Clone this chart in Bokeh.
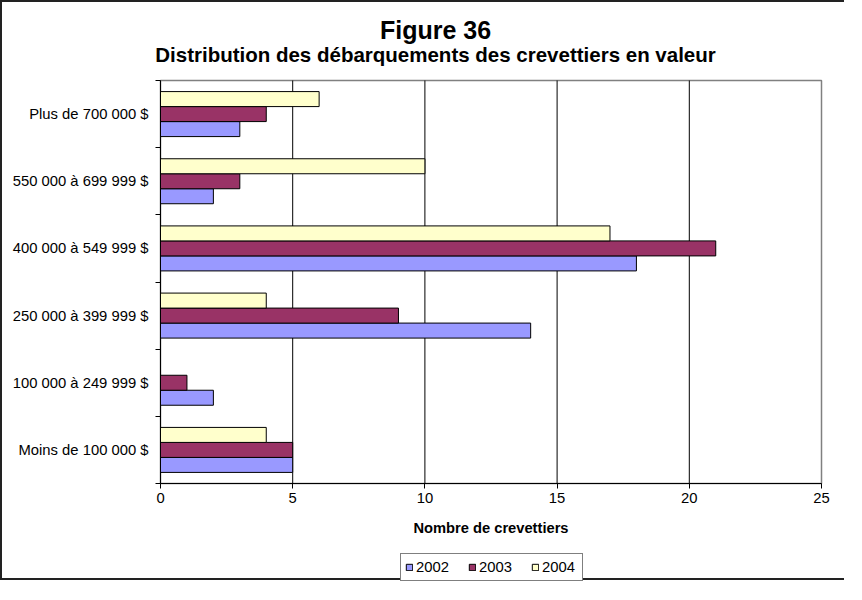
from bokeh.plotting import figure
from bokeh.models import ColumnDataSource, FixedTicker, Label, Legend, LegendItem
from bokeh.transform import dodge
from bokeh.embed import file_html
from bokeh.resources import INLINE

title = "Figure 36"
subtitle = "Distribution des débarquements des crevettiers en valeur"
x_label = "Nombre de crevettiers"

categories = [
    "Moins de 100 000 $",
    "100 000 à 249 999 $",
    "250 000 à 399 999 $",
    "400 000 à 549 999 $",
    "550 000 à 699 999 $",
    "Plus de 700 000 $",
]
years = ["2002", "2003", "2004"]
v2002 = [5, 2, 14, 18, 2, 3]
v2003 = [5, 1, 9, 21, 3, 4]
v2004 = [4, 0, 4, 17, 10, 6]
x_ticks = [0, 5, 10, 15, 20, 25]

colors = ["#9999FF", "#993366", "#FFFFCC"]
FONT = "Liberation Sans"

# layout (pixels); the frame fills the whole canvas, the plot area sits inside it
W, H = 844, 580
plot_left_px, plot_right_px = 158, 819
plot_top_px, plot_bottom_px = 78, 481
n = len(categories)
ux = (plot_right_px - plot_left_px) / (x_ticks[-1] - x_ticks[0])
uy = (plot_bottom_px - plot_top_px) / n
x_start = x_ticks[0] - plot_left_px / ux
x_end = x_ticks[-1] + (W - plot_right_px) / ux
y_start = -(H - plot_bottom_px) / uy
y_end = n + plot_top_px / uy

p = figure(width=W, height=H, x_range=(x_start, x_end), y_range=(y_start, y_end),
           output_backend="svg", toolbar_location=None,
           min_border_left=0, min_border_right=0, min_border_top=0, min_border_bottom=0)
p.styles = {"border-left": "2px solid #222", "border-top": "2px solid #222",
            "border-bottom": "2px solid #222"}
p.outline_line_color = None
p.xgrid.grid_line_color = None
p.ygrid.grid_line_color = None

# plot-area border and vertical gridlines
p.quad(left=x_ticks[0], right=x_ticks[-1], bottom=0, top=n, fill_color=None,
       line_color="#808080", line_width=1.5)
p.segment(x0=x_ticks[1:-1], y0=[0] * (len(x_ticks) - 2), x1=x_ticks[1:-1],
          y1=[n] * (len(x_ticks) - 2), line_color="black", line_width=1)

yc = [i + 0.5 for i in range(n)]
src = ColumnDataSource(dict(y=yc, v2002=v2002, v2003=v2003, v2004=v2004))
bh = 0.2233
offsets = [-bh, 0.0, bh]
renderers = []
for yr, col, off in zip(years, colors, offsets):
    r = p.hbar(y=dodge("y", off), left=0, right="v" + yr, height=bh, source=src,
               fill_color=col, line_color="black", line_width=1)
    renderers.append(r)

# x axis drawn at y = 0
p.xaxis.fixed_location = 0
p.xaxis.bounds = (x_ticks[0], x_ticks[-1])
p.xaxis.ticker = FixedTicker(ticks=x_ticks)
p.xaxis.major_tick_out = 5
p.xaxis.major_tick_in = 0
p.xaxis.minor_tick_line_color = None
p.xaxis.axis_line_color = "black"
p.xaxis.major_tick_line_color = "black"
p.xaxis.major_label_text_font = FONT
p.xaxis.major_label_text_font_size = "14.8px"
p.xaxis.major_label_text_color = "black"
p.xaxis.major_label_standoff = 4
p.xaxis.axis_label = x_label
p.xaxis.axis_label_text_font = FONT
p.xaxis.axis_label_text_font_size = "14.7px"
p.xaxis.axis_label_text_font_style = "bold"
p.xaxis.axis_label_text_color = "black"
p.xaxis.axis_label_standoff = 14

# y axis drawn at x = 0
p.yaxis.fixed_location = 0
p.yaxis.bounds = (0, n)
p.yaxis.ticker = FixedTicker(ticks=yc, minor_ticks=list(range(n + 1)))
p.yaxis.major_label_overrides = {yc[i]: categories[i] for i in range(n)}
p.yaxis.major_tick_line_color = None
p.yaxis.major_tick_out = 0
p.yaxis.major_tick_in = 0
p.yaxis.minor_tick_out = 5
p.yaxis.minor_tick_in = 0
p.yaxis.minor_tick_line_color = "black"
p.yaxis.axis_line_color = "black"
p.yaxis.major_label_text_font = FONT
p.yaxis.major_label_text_font_size = "14.8px"
p.yaxis.major_label_text_color = "black"
p.yaxis.major_label_standoff = 7

# titles above the plot area
tx = plot_left_px + 275
p.add_layout(Label(x=tx, y=H - 27, x_units="screen", y_units="screen", text=title,
                   text_align="center", text_baseline="alphabetic", text_font=FONT,
                   text_font_size="25px", text_font_style="bold", text_color="black"))
p.add_layout(Label(x=tx, y=H - 52, x_units="screen", y_units="screen", text=subtitle,
                   text_align="center", text_baseline="alphabetic", text_font=FONT,
                   text_font_size="20.5px", text_font_style="bold", text_color="black"))

legend = Legend(items=[LegendItem(label=yr, renderers=[r]) for yr, r in zip(years, renderers)],
                orientation="horizontal", location=(plot_left_px + 240, 1),
                glyph_width=8, glyph_height=8, label_standoff=3, spacing=16,
                padding=4, margin=0, label_width=36, label_height=18,
                border_line_color="black", border_line_width=1,
                label_text_font=FONT, label_text_font_size="14.8px",
                label_text_color="black", background_fill_color="white",
                background_fill_alpha=1)
p.add_layout(legend)

open("out.html", "w").write(file_html(p, INLINE))
